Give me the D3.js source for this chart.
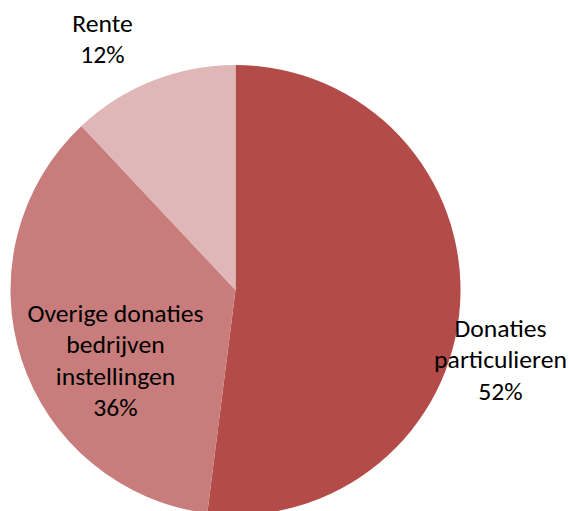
<!DOCTYPE html>
<html><head><meta charset="utf-8">
<script src="https://cdn.jsdelivr.net/npm/d3@7"></script>
<style>
html,body{margin:0;padding:0;background:#fff;overflow:hidden;}
text{font-family:Carlito, Lato, "Open Sans", sans-serif;font-size:24px;fill:#000;}
</style></head>
<body>
<svg id="c" width="569" height="511"></svg>
<script>
const categories = ["Donaties particulieren", "Overige donaties bedrijven instellingen", "Rente"];
const values = [52, 36, 12];
const colors = ["#B34B49", "#C87D7C", "#DEB7B6"];
const labelLines = [["Donaties", "particulieren", "52%"], ["Overige donaties", "bedrijven", "instellingen", "36%"], ["Rente", "12%"]];

const svg = d3.select("#c");
const cx = 235.5, cy = 290, r = 225;
const g = svg.append("g").attr("transform", `translate(${cx},${cy})`);
const pie = d3.pie().sort(null).value(d => d.v);
const data = pie(categories.map((c, i) => ({c, v: values[i], i})));
const arc = d3.arc().innerRadius(0).outerRadius(r);
g.selectAll("path").data(data).join("path")
  .attr("d", arc).attr("fill", d => colors[d.data.i]);

// label anchors (first baseline) relative to centre
const labelPos = [[265, 47], [-120, 32], [-133, -258]];
const lh = 31.5;
data.forEach(d => {
  const [lx, ly] = labelPos[d.data.i];
  const t = g.append("g").attr("transform", `translate(${lx},${ly}) scale(1.07,1)`)
    .append("text").attr("text-anchor", "middle");
  labelLines[d.data.i].forEach((s, k) => {
    t.append("tspan").attr("x", 0).attr("y", k * lh).text(s);
  });
});
</script>
</body></html>
